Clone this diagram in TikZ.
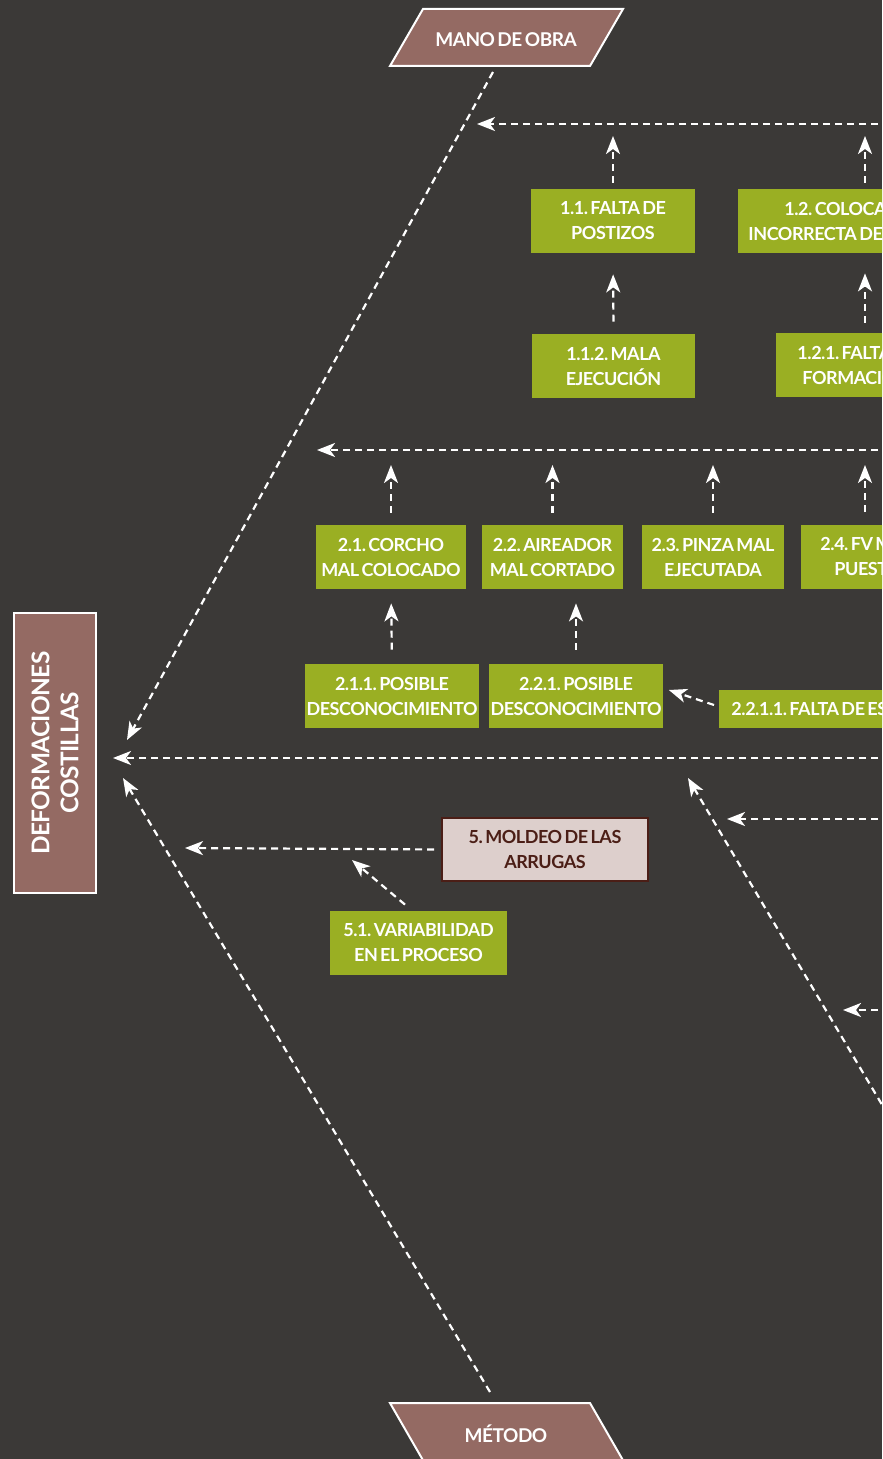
\documentclass[tikz,border=0pt]{standalone}
\usepackage{fontspec}
\setmainfont{Lato}[LetterSpace=-2.5, WordSpace=0.6]
\usetikzlibrary{arrows.meta}
\definecolor{fondo}{RGB}{59,57,55}
\definecolor{oliva}{RGB}{154,175,35}
\definecolor{rosado}{RGB}{148,106,99}
\definecolor{crema}{RGB}{221,207,204}
\definecolor{vino}{RGB}{75,30,22}
\tikzset{
  flecha/.style={white, line width=1.1pt, dash pattern=on 3.5pt off 2.5pt,
    -{Stealth[length=9pt,width=7pt,inset=2.5pt]}},
  causa/.style={fill=oliva, text=white, font=\bfseries\fontsize{9}{12.5}\selectfont,
    align=center, minimum height=32pt, inner sep=1pt},
  corte/.style={causa, anchor=west, align=flush left, text width=120pt},
  categoria/.style={fill=rosado, draw=white, line width=1pt},
  rotulo/.style={text=white, font=\bfseries\fontsize{9.5}{12}\selectfont},
}
\frenchspacing
\begin{document}
\begin{tikzpicture}[x=0.5pt, y=-0.5pt]
  \fill[fondo] (0,0) rectangle (882,1459);
  \useasboundingbox (0,0) rectangle (882,1459);
  \clip (0,0) rectangle (882,1459);

  % efecto
  \node[categoria, rotate=90, minimum width=140pt, minimum height=41pt, text=white,
    font=\bfseries\fontsize{12.2}{14.5}\selectfont, align=center] (efecto) at (55,753)
    {DEFORMACIONES\\COSTILLAS};

  % categorias
  \draw[categoria] (423,9) -- (623,9) -- (590,66) -- (390,66) -- cycle;
  \node[rotulo] (mano) at (506,40) {MANO DE OBRA};
  \draw[categoria] (390,1403) -- (590,1403) -- (624,1462) -- (424,1462) -- cycle;
  \node[rotulo] (metodo) at (506,1434) {MÉTODO};

  % causas
  \node[causa, minimum width=82pt] (c11) at (613,221) {1.1. FALTA DE\\POSTIZOS};
  \node[causa, minimum width=81.5pt] (c112) at (613.5,366) {1.1.2. MALA\\EJECUCIÓN};
  \node[corte, inner xsep=5pt] (c12) at (738,221) {\hspace*{18pt}1.2. COLOCA\\INCORRECTA DE};
  \node[corte, inner xsep=10.5pt] (c121) at (776,365) {1.2.1. FALTA\\\hspace*{2.5pt}FORMACIO};
  \node[causa, minimum width=75pt] (c21) at (391,557) {2.1. CORCHO\\MAL COLOCADO};
  \node[causa, minimum width=70.5pt] (c22) at (552.5,557) {2.2. AIREADOR\\MAL CORTADO};
  \node[causa, minimum width=71pt] (c23) at (713,557) {2.3. PINZA MAL\\EJECUTADA};
  \node[corte, inner xsep=9.5pt] (c24) at (801,556.5) {2.4. FV M\\\hspace*{7pt}PUEST};
  \node[causa, minimum width=87pt] (c211) at (392,696) {2.1.1. POSIBLE\\DESCONOCIMIENTO};
  \node[causa, minimum width=87pt] (c221) at (576,696) {2.2.1. POSIBLE\\DESCONOCIMIENTO};
  \node[corte, inner xsep=6pt, minimum height=19pt] (c2211) at (719,709) {2.2.1.1. FALTA DE EST};
  \node[causa, fill=crema, draw=vino, line width=1pt, text=vino, minimum width=103pt,
    minimum height=31.5pt] (c5) at (545,849.5) {5. MOLDEO DE LAS\\ARRUGAS};
  \node[causa, minimum width=88.5pt] (c51) at (418.5,943) {5.1. VARIABILIDAD\\EN EL PROCESO};

  % espinas
  \coordinate (r0) at (890,758);  \coordinate (t0) at (113,758);
  \coordinate (r1) at (890,124);  \coordinate (t1) at (477,124);
  \coordinate (r2) at (890,450);  \coordinate (t2) at (317,450);
  \coordinate (r6) at (890,819);  \coordinate (t6) at (727,819);
  \coordinate (r7) at (890,1010); \coordinate (t7) at (843,1010);
  \coordinate (r8) at (900,1135); \coordinate (t8) at (688,778);
  \coordinate (m1) at (493,72);   \coordinate (m2) at (127,740);
  \coordinate (d1) at (490,1392); \coordinate (d2) at (123,778);
  \coordinate (t5) at (185,848);
  \coordinate (t51) at (352,860);
  \draw[flecha] (r0) -- (t0);
  \draw[flecha] (r1) -- (t1);
  \draw[flecha] (r2) -- (t2);
  \draw[flecha] (r6) -- (t6);
  \draw[flecha] (r7) -- (t7);
  \draw[flecha] (r8) -- (t8);
  \draw[flecha] (m1) -- (m2);
  \draw[flecha] (d1) -- (d2);
  \draw[flecha, shorten <=3.5pt] (c5.west) -- (t5);

  % flechas entre causas
  \coordinate (a12) at ([xshift=63.5pt]c12.north west);
  \coordinate (a121) at ([xshift=44.5pt]c121.north west);
  \coordinate (a24) at ([xshift=32pt]c24.north west);
  \draw[flecha, shorten <=3pt, shorten >=6pt] (c11.north) -- (c11.north |- t1);
  \draw[flecha, shorten <=3pt, shorten >=6pt] (a12) -- (a12 |- t1);
  \draw[flecha, shorten <=6pt, shorten >=10.5pt] (c112.north) -- (c11.south);
  \draw[flecha, shorten <=5pt, shorten >=10pt] (a121) -- (a121 |- c12.south);
  \foreach \n in {c21,c22,c23}
    \draw[flecha, shorten <=6pt, shorten >=7.5pt] (\n.north) -- (\n.north |- t2);
  \draw[flecha, shorten <=6pt, shorten >=7.5pt] (a24) -- (a24 |- t2);
  \draw[flecha, shorten <=7pt, shorten >=7pt] (c211.north) -- (c21.south);
  \draw[flecha, shorten <=7pt, shorten >=7pt] (c221.north) -- (c221.north |- c22.south);
  \draw[flecha] ([xshift=-2.5pt,yshift=2pt]c2211.west) -- ([xshift=2.5pt,yshift=3pt]c221.east);
  \draw[flecha] ([xshift=-6.75pt,yshift=3pt]c51.north) -- (t51);
\end{tikzpicture}
\end{document}
